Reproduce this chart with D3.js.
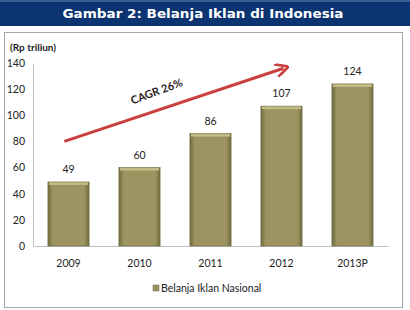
<!DOCTYPE html>
<html>
<head>
<meta charset="utf-8">
<script src="https://cdn.jsdelivr.net/npm/d3@7"></script>
<style>
  body { margin: 0; background: #fff; }
  svg { display: block; }
</style>
</head>
<body>
<script>
const width = 410;
const height = 310;

// data
const years = ["2009", "2010", "2011", "2012", "2013P"];
const spending = [49, 60, 86, 107, 124];
const yTicks = [0, 20, 40, 60, 80, 100, 120, 140];
const seriesName = "Belanja Iklan Nasional";
const cagrLabel = "CAGR 26%";
// arrow annotation: [category, value]
const arrowFrom = ["2009", 80];
const arrowTo = ["2012", 136];

const color = {
    banner: "#0b3470",
    bannerEdge: "#3c5f93",
    bar: "#9d9462",
    barLight: "#c4bd86",
    barDark: "#6f6a3d",
    arrow: "#c9403e",
    text: "#222",
    frame: "#a6a6a6",
    axis: "#bfbfbf"
};

const svg = d3.select("body").append("svg")
    .attr("width", width)
    .attr("height", height);

// gradient for bars
const defs = svg.append("defs");
const grad = defs.append("linearGradient")
    .attr("id", "barGrad")
    .attr("x1", 0).attr("x2", 1).attr("y1", 0).attr("y2", 0);
grad.append("stop").attr("offset", "0%").attr("stop-color", color.barDark);
grad.append("stop").attr("offset", "12%").attr("stop-color", color.bar);
grad.append("stop").attr("offset", "88%").attr("stop-color", color.bar);
grad.append("stop").attr("offset", "100%").attr("stop-color", color.barDark);

defs.append("marker")
    .attr("id", "arrowHead")
    .attr("viewBox", "0 0 10 10")
    .attr("refX", 6)
    .attr("refY", 5)
    .attr("markerWidth", 4.5)
    .attr("markerHeight", 4.5)
    .attr("orient", "auto")
    .append("path")
    .attr("d", "M0,0 L10,5 L0,10")
    .attr("fill", "none")
    .attr("stroke", color.arrow)
    .attr("stroke-width", 2);

// title banner
svg.append("rect")
    .attr("x", 0).attr("y", 0)
    .attr("width", width).attr("height", 26)
    .attr("fill", color.banner);
svg.append("rect")
    .attr("x", 0).attr("y", 0)
    .attr("width", width).attr("height", 2)
    .attr("fill", color.bannerEdge);

svg.append("text")
    .attr("x", 203)
    .attr("y", 18)
    .attr("text-anchor", "middle")
    .attr("fill", "#fff")
    .attr("font-family", "DejaVu Sans")
    .attr("font-weight", "bold")
    .attr("font-size", 13)
    .attr("textLength", 281)
    .attr("lengthAdjust", "spacingAndGlyphs")
    .text("Gambar 2: Belanja Iklan di Indonesia");

// chart frame
svg.append("rect")
    .attr("x", 4.5).attr("y", 32.5)
    .attr("width", 398).attr("height", 275)
    .attr("fill", "#fff")
    .attr("stroke", color.frame);

svg.append("text")
    .attr("x", 10)
    .attr("y", 51)
    .attr("fill", color.text)
    .attr("font-family", "Lato")
    .attr("font-weight", "bold")
    .attr("font-size", 10)
    .text("(Rp triliun)");

const margin = { left: 33, right: 22, top: 63, bottom: 64 };

const x = d3.scaleBand()
    .domain(years)
    .range([margin.left, width - margin.right])
    .paddingInner(0.42)
    .paddingOuter(0.21);

const y = d3.scaleLinear()
    .domain([0, 140])
    .range([height - margin.bottom, margin.top]);

// axes
const yAxis = svg.append("g")
    .attr("transform", `translate(${margin.left},0)`)
    .call(d3.axisLeft(y).tickValues(yTicks).tickSize(0).tickPadding(8));
yAxis.select(".domain").attr("stroke", color.axis);
yAxis.selectAll("text")
    .attr("font-family", "Lato")
    .attr("font-size", 10.5)
    .attr("fill", color.text);

const xAxis = svg.append("g")
    .attr("transform", `translate(0,${y(0)})`)
    .call(d3.axisBottom(x).tickSize(0).tickPadding(14));
xAxis.select(".domain").attr("stroke", color.axis);
xAxis.selectAll("text")
    .attr("font-family", "Lato")
    .attr("font-size", 10.5)
    .attr("fill", color.text);

// bars
const bars = svg.append("g");
bars.selectAll("rect")
    .data(spending)
    .enter()
    .append("rect")
    .attr("x", (d, i) => x(years[i]))
    .attr("y", d => y(d))
    .attr("width", x.bandwidth())
    .attr("height", d => y(0) - y(d))
    .attr("fill", "url(#barGrad)")
    .attr("stroke", color.barDark)
    .attr("stroke-width", 0.6);

// lighter top edge
bars.selectAll(".cap")
    .data(spending)
    .enter()
    .append("rect")
    .attr("class", "cap")
    .attr("x", (d, i) => x(years[i]) + 1)
    .attr("y", d => y(d) + 0.5)
    .attr("width", x.bandwidth() - 2)
    .attr("height", 2.5)
    .attr("fill", color.barLight);

// value labels
svg.append("g").selectAll("text")
    .data(spending)
    .enter()
    .append("text")
    .attr("x", (d, i) => x(years[i]) + x.bandwidth() / 2)
    .attr("y", d => y(d) - 9)
    .attr("text-anchor", "middle")
    .attr("font-family", "Lato")
    .attr("font-size", 10.5)
    .attr("fill", color.text)
    .text(d => d);

// CAGR arrow
const ax1 = x(arrowFrom[0]) + x.bandwidth() * 0.4;
const ay1 = y(arrowFrom[1]);
const ax2 = x(arrowTo[0]) + x.bandwidth() * 0.55;
const ay2 = y(arrowTo[1]);
svg.append("line")
    .attr("x1", ax1).attr("y1", ay1)
    .attr("x2", ax2).attr("y2", ay2)
    .attr("stroke", color.arrow)
    .attr("stroke-width", 3)
    .attr("marker-end", "url(#arrowHead)");

const angle = Math.atan2(ay2 - ay1, ax2 - ax1) * 180 / Math.PI;
svg.append("text")
    .attr("transform", `translate(158,95) rotate(${angle - 2})`)
    .attr("text-anchor", "middle")
    .attr("font-family", "Lato")
    .attr("font-weight", "bold")
    .attr("font-size", 11)
    .attr("fill", "#2a1a1a")
    .text(cagrLabel);

// legend
const legend = svg.append("g").attr("transform", "translate(153,290)");
legend.append("rect")
    .attr("x", 0).attr("y", -5)
    .attr("width", 6).attr("height", 6)
    .attr("fill", color.bar)
    .attr("stroke", color.barDark)
    .attr("stroke-width", 0.5);
legend.append("text")
    .attr("x", 8)
    .attr("y", 1.5)
    .attr("font-family", "Lato")
    .attr("font-size", 10.5)
    .attr("fill", color.text)
    .text(seriesName);
</script>
</body>
</html>
